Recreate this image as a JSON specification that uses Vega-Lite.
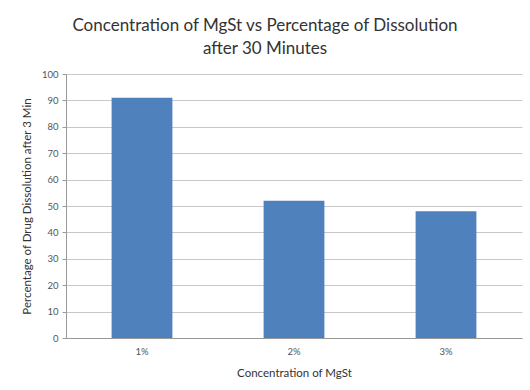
{
  "$schema": "https://vega.github.io/schema/vega-lite/v6.json",
  "width": 456,
  "height": 264,
  "autosize": {"type": "none"},
  "padding": {"left": 66, "top": 74, "right": 8, "bottom": 52},
  "background": "white",
  "title": {
    "text": ["Concentration of MgSt vs Percentage of Dissolution", "after 30 Minutes"],
    "font": "Lato",
    "fontSize": 17,
    "fontWeight": "normal",
    "color": "#333333",
    "anchor": "middle",
    "dx": -29,
    "offset": 11,
    "lineHeight": 23
  },
  "data": {
    "values": [
      {"conc": "1%", "pct": 91},
      {"conc": "2%", "pct": 52},
      {"conc": "3%", "pct": 48}
    ]
  },
  "mark": {"type": "bar", "color": "#4F81BD"},
  "encoding": {
    "x": {
      "field": "conc",
      "type": "nominal",
      "sort": null,
      "scale": {"paddingInner": 0.6, "paddingOuter": 0.3},
      "axis": {
        "title": "Concentration of MgSt",
        "titleFont": "Lato",
        "titleFontSize": 11.5,
        "titleFontWeight": "normal",
        "titleColor": "#333333",
        "titlePadding": 12,
        "labelAngle": 0,
        "labelFont": "Lato",
        "labelFontSize": 9.5,
        "labelColor": "#555555",
        "labelPadding": 8,
        "ticks": false,
        "domainColor": "#999999"
      }
    },
    "y": {
      "field": "pct",
      "type": "quantitative",
      "scale": {"domain": [0, 100]},
      "axis": {
        "title": "Percentage of Drug Dissolution after 3 Min",
        "titleFont": "Lato",
        "titleFontSize": 11.5,
        "titleFontWeight": "normal",
        "titleColor": "#333333",
        "titlePadding": 9,
        "values": [0, 10, 20, 30, 40, 50, 60, 70, 80, 90, 100],
        "labelFont": "Lato",
        "labelFontSize": 9.5,
        "labelColor": "#555555",
        "labelPadding": 4,
        "tickColor": "#999999",
        "tickSize": 4,
        "domainColor": "#999999",
        "gridColor": "#c8c8c8"
      }
    }
  },
  "config": {"view": {"stroke": null}}
}
